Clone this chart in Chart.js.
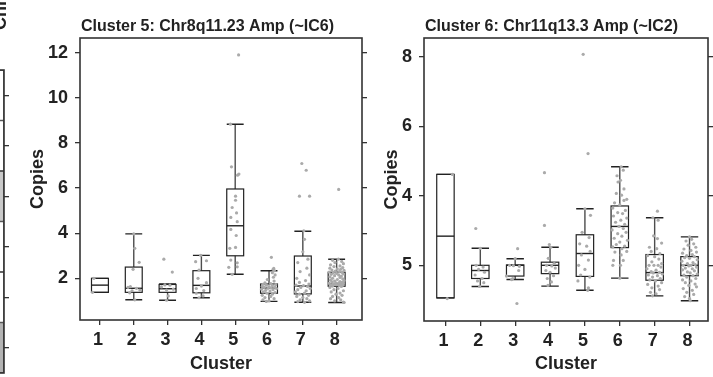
<!DOCTYPE html>
<html>
<head>
<meta charset="utf-8">
<script src="https://cdn.jsdelivr.net/npm/chart.js@4.4.1/dist/chart.umd.min.js"></script>
<style>
  html, body { margin: 0; padding: 0; background: #fff; overflow: hidden; }
  #wrap { position: relative; width: 713px; height: 377px; overflow: hidden; }
  canvas { position: absolute; top: 0; }
  #chr {
    position: absolute; left: -9px; top: 30px; white-space: nowrap;
    transform: rotate(-90deg); transform-origin: 0 0;
    font: bold 18px "Liberation Sans", Arial, sans-serif; line-height: 18px; color: #222;
  }
</style>
</head>
<body>
<div id="wrap">
  <canvas id="frag" width="160" height="377" style="left:-150px"></canvas>
  <canvas id="p1" width="372" height="377" style="left:0"></canvas>
  <canvas id="p2" width="348" height="377" style="left:365px"></canvas>
  <div id="chr">Chr</div>
</div>
<script>
// ---- data ----
const clusters = ['1', '2', '3', '4', '5', '6', '7', '8'];

// Panel 1: Chr8q11.23
const p1Title = 'Cluster 5: Chr8q11.23 Amp (~IC6)';
const p1YTicks = [2, 4, 6, 8, 10, 12];
const p1YLabels = ['2', '4', '6', '8', '10', '12'];
const p1Min = [1.38, 1.05, 1.03, 1.14, 2.18, 0.98, 0.94, 0.93];
const p1Q1  = [1.38, 1.38, 1.38, 1.36, 3.00, 1.34, 1.31, 1.65];
const p1Med = [1.70, 1.56, 1.54, 1.69, 4.33, 1.57, 1.66, 1.76];
const p1Q3  = [2.00, 2.50, 1.73, 2.34, 5.96, 1.75, 2.99, 2.27];
const p1Max = [2.00, 3.97, 1.75, 3.02, 8.83, 2.34, 4.09, 2.85];
// jittered samples: [offset from cluster, copies]
const p1Pts = [
  [[-0.18, 2.0], [-0.22, 1.38]],
  [[0.0, 3.97], [0.03, 3.33], [0.16, 2.71], [-0.02, 2.40], [-0.1, 1.63], [-0.17, 1.60], [0.08, 1.56],
   [0.18, 1.48], [-0.05, 1.45], [-0.12, 1.36], [0.03, 1.05]],
  [[-0.11, 2.85], [0.14, 2.28], [-0.08, 1.71], [0.07, 1.70], [-0.18, 1.62], [0.17, 1.52], [-0.03, 1.48],
   [0.02, 1.22], [-0.03, 1.03]],
  [[-0.02, 3.02], [0.15, 2.78], [-0.17, 2.74], [-0.07, 2.37], [-0.1, 2.0], [0.15, 1.81], [0.0, 1.66],
   [-0.15, 1.55], [0.07, 1.46], [-0.15, 1.34], [0.05, 1.22], [-0.07, 1.14]],
  [[0.1, 11.9], [-0.14, 8.83], [-0.11, 6.94], [0.07, 6.57], [0.11, 6.62], [0.01, 5.64], [0.01, 5.46],
   [-0.09, 5.14], [0.04, 4.90], [-0.13, 4.70], [0.06, 4.51], [-0.13, 4.17], [0.03, 3.90], [-0.16, 3.33],
   [0.01, 3.37], [-0.13, 2.81], [0.06, 2.69], [-0.19, 2.49], [0.06, 2.51], [-0.09, 2.18]],
  [[0.07, 2.93], [0.14, 2.44], [0.12, 2.40], [0.16, 2.34], [0.1, 2.25], [0.18, 2.15], [0.13, 2.05],
   [-0.05, 1.95], [0.15, 1.88], [-0.12, 1.80], [0.05, 1.77], [-0.18, 1.74], [0.2, 1.72], [-0.08, 1.70],
   [0.1, 1.68], [-0.2, 1.65], [0.0, 1.63], [0.17, 1.61], [-0.14, 1.60], [0.06, 1.58], [-0.03, 1.56],
   [0.22, 1.55], [-0.22, 1.52], [0.12, 1.50], [-0.1, 1.47], [0.03, 1.44], [-0.17, 1.40], [0.18, 1.37],
   [-0.06, 1.34], [0.1, 1.30], [-0.2, 1.25], [0.05, 1.20], [-0.12, 1.15], [0.15, 1.10], [-0.18, 1.05],
   [0.0, 1.0], [-0.08, 0.98]],
  [[-0.03, 7.09], [0.1, 6.79], [-0.1, 5.64], [0.2, 5.64], [0.03, 4.11], [0.05, 3.73], [0.0, 3.18],
   [0.15, 2.85], [-0.15, 2.7], [0.12, 2.45], [-0.08, 2.3], [0.2, 2.15], [-0.18, 2.0], [0.08, 1.9],
   [-0.1, 1.82], [0.18, 1.75], [-0.2, 1.7], [0.02, 1.68], [0.14, 1.64], [-0.06, 1.6], [0.22, 1.55],
   [-0.15, 1.5], [0.1, 1.45], [-0.22, 1.4], [0.05, 1.35], [-0.1, 1.3], [0.17, 1.25], [-0.18, 1.2],
   [0.0, 1.15], [0.12, 1.1], [-0.08, 1.05], [0.2, 1.0], [-0.15, 0.97], [0.05, 0.94]],
  [[0.06, 5.94], [0.05, 2.85], [-0.12, 2.8], [0.15, 2.75], [-0.05, 2.7], [0.2, 2.65], [-0.18, 2.6],
   [0.1, 2.55], [-0.08, 2.52], [0.18, 2.48], [-0.2, 2.45], [0.02, 2.42], [0.12, 2.4], [-0.14, 2.37],
   [0.22, 2.35], [-0.04, 2.32], [0.08, 2.3], [-0.22, 2.28], [0.16, 2.26], [-0.1, 2.24], [0.0, 2.22],
   [0.2, 2.2], [-0.16, 2.18], [0.06, 2.15], [-0.06, 2.12], [0.14, 2.1], [-0.2, 2.07], [0.1, 2.04],
   [-0.12, 2.0], [0.18, 1.98], [0.02, 1.95], [-0.18, 1.92], [0.22, 1.9], [-0.06, 1.88], [0.1, 1.86],
   [-0.14, 1.84], [0.16, 1.82], [-0.02, 1.8], [0.06, 1.79], [-0.22, 1.78], [0.2, 1.77], [-0.1, 1.76],
   [0.12, 1.75], [-0.04, 1.74], [0.0, 1.72], [-0.16, 1.71], [0.18, 1.7], [0.08, 1.68], [-0.12, 1.66],
   [0.14, 1.64], [-0.2, 1.6], [0.04, 1.55], [-0.08, 1.5], [0.2, 1.45], [-0.16, 1.4], [0.1, 1.35],
   [-0.02, 1.3], [0.16, 1.25], [-0.12, 1.2], [0.06, 1.15], [-0.18, 1.1], [0.12, 1.05], [-0.06, 1.0],
   [0.2, 0.95], [0.22, 0.93]]
];

// Panel 2: Chr11q13.3 (tick labels as printed)
const p2Title = 'Cluster 6: Chr11q13.3 Amp (~IC2)';
const p2YTicks = [2, 4, 6, 8];
const p2YLabels = ['5', '4', '6', '8'];
const p2Min = [1.06, 1.39, 1.59, 1.40, 1.28, 1.63, 1.12, 0.98];
const p2Q1  = [1.06, 1.62, 1.69, 1.76, 1.68, 2.51, 1.57, 1.70];
const p2Med = [2.84, 1.85, 2.00, 2.00, 2.34, 3.12, 1.79, 2.00];
const p2Q3  = [4.62, 2.00, 2.01, 2.09, 2.88, 3.71, 2.31, 2.25];
const p2Max = [4.62, 2.49, 2.19, 2.52, 3.63, 4.84, 3.37, 2.82];
const p2Pts = [
  [[0.2, 4.62], [0.05, 1.04]],
  [[-0.13, 3.06], [0.0, 2.49], [-0.12, 2.0], [0.08, 1.95], [-0.05, 1.88], [0.12, 1.8], [-0.15, 1.72],
   [0.05, 1.62], [-0.08, 1.55], [0.1, 1.5], [-0.02, 1.39]],
  [[0.07, 2.48], [0.0, 2.19], [-0.16, 2.0], [-0.05, 1.99], [0.12, 1.97], [0.1, 1.85], [-0.25, 1.69],
   [-0.07, 1.62], [-0.1, 1.59], [0.05, 0.90]],
  [[-0.16, 4.67], [-0.16, 3.15], [-0.02, 2.6], [0.02, 2.52], [-0.05, 2.2], [0.12, 2.05], [-0.1, 2.0],
   [0.05, 1.98], [0.15, 1.92], [-0.12, 1.85], [0.0, 1.8], [0.1, 1.7], [-0.08, 1.62], [0.04, 1.52],
   [-0.06, 1.42]],
  [[-0.05, 8.08], [0.09, 5.22], [0.16, 3.44], [0.0, 3.63], [-0.08, 2.95], [0.12, 2.8], [-0.15, 2.62],
   [0.05, 2.55], [0.15, 2.4], [-0.1, 2.3], [0.1, 2.15], [-0.18, 2.0], [0.0, 1.88], [-0.12, 1.72],
   [0.14, 1.66], [-0.2, 1.55], [0.1, 1.35], [0.08, 1.28]],
  [[0.04, 4.84], [0.1, 4.74], [-0.08, 4.58], [0.02, 4.45], [-0.05, 4.40], [0.12, 4.20], [-0.1, 4.07],
   [0.05, 4.02], [0.2, 3.90], [0.12, 3.87], [-0.15, 3.80], [0.0, 3.74], [-0.2, 3.65], [0.16, 3.58],
   [-0.06, 3.52], [0.08, 3.49], [-0.18, 3.42], [0.2, 3.36], [0.03, 3.30], [-0.12, 3.24], [0.14, 3.18],
   [-0.02, 3.12], [0.1, 3.06], [-0.22, 3.02], [0.18, 2.95], [-0.06, 2.91], [0.06, 2.84], [-0.16, 2.78],
   [0.22, 2.72], [0.0, 2.67], [-0.1, 2.60], [0.14, 2.55], [-0.2, 2.53], [0.06, 2.48], [0.2, 2.40],
   [-0.14, 2.38], [0.04, 2.30], [-0.18, 2.14], [0.1, 2.14], [-0.2, 2.0], [0.02, 2.0], [0.0, 1.63]],
  [[0.08, 3.56], [-0.05, 3.37], [0.1, 3.30], [-0.03, 2.85], [0.08, 2.77], [0.2, 2.64], [-0.15, 2.52],
   [0.06, 2.48], [-0.1, 2.40], [0.15, 2.34], [-0.2, 2.28], [0.0, 2.25], [0.12, 2.18], [-0.08, 2.10],
   [0.2, 2.05], [-0.16, 2.00], [-0.02, 2.00], [0.1, 2.00], [0.18, 1.95], [-0.22, 1.90], [0.04, 1.86],
   [-0.1, 1.82], [0.14, 1.80], [-0.04, 1.78], [0.22, 1.75], [-0.18, 1.72], [0.08, 1.70], [-0.06, 1.66],
   [0.16, 1.62], [-0.14, 1.58], [0.02, 1.55], [0.2, 1.50], [-0.2, 1.45], [0.1, 1.40], [-0.08, 1.35],
   [0.14, 1.30], [-0.12, 1.22], [0.04, 1.18], [-0.06, 1.12]],
  [[0.0, 2.82], [0.06, 2.75], [-0.1, 2.70], [0.12, 2.62], [-0.04, 2.58], [0.18, 2.52], [-0.16, 2.47],
   [0.04, 2.43], [0.2, 2.38], [-0.2, 2.35], [0.08, 2.31], [-0.08, 2.28], [0.14, 2.25], [-0.14, 2.22],
   [0.0, 2.20], [0.22, 2.16], [-0.22, 2.12], [0.1, 2.08], [-0.06, 2.05], [0.16, 2.02], [-0.18, 2.00],
   [0.04, 2.00], [-0.02, 1.98], [0.2, 1.95], [-0.12, 1.92], [0.08, 1.90], [-0.2, 1.87], [0.14, 1.84],
   [-0.06, 1.81], [0.02, 1.78], [0.22, 1.75], [-0.16, 1.72], [0.1, 1.70], [-0.08, 1.66], [0.18, 1.62],
   [-0.2, 1.58], [0.04, 1.55], [-0.12, 1.50], [0.16, 1.46], [-0.02, 1.42], [0.2, 1.38], [-0.18, 1.33],
   [0.08, 1.28], [-0.08, 1.22], [0.12, 1.16], [-0.14, 1.10], [0.0, 1.04], [0.02, 0.98]]
];

// cropped neighbour panel on the left edge
const fragRows = ['r1', 'r2', 'r3', 'r4', 'r5', 'r6'];
const fragValues = [1, 1, 1, 1, 1, 1];
const fragFill = ['#ffffff', '#ffffff', '#c9c9c9', '#ffffff', '#ffffff', '#b3b3b3'];

// ---- look ----
const FONT = '"Liberation Sans", Arial, Helvetica, sans-serif';
const INK = '#222';
const BOX_HALF = 0.25;

// boxes, whiskers, frame and panel title, placed with the chart's own scales
const boxPlugin = {
  id: 'boxes',
  beforeDatasetsDraw(chart, args, opts) {
    const { ctx, scales: { x, y } } = chart;
    const s = opts.stats;
    if (!s) return;
    const py = v => y.getPixelForValue(v);
    ctx.save();
    for (let i = 0; i < s.med.length; i++) {
      const xc = x.getPixelForValue(i + 1);
      const xl = x.getPixelForValue(i + 1 - BOX_HALF);
      const xr = x.getPixelForValue(i + 1 + BOX_HALF);
      // whiskers
      ctx.strokeStyle = '#4d4d4d';
      ctx.lineWidth = 1.4;
      ctx.beginPath();
      ctx.moveTo(xc, py(s.q3[i])); ctx.lineTo(xc, py(s.max[i]));
      ctx.moveTo(xc, py(s.q1[i])); ctx.lineTo(xc, py(s.min[i]));
      ctx.stroke();
      // caps
      ctx.strokeStyle = INK;
      ctx.beginPath();
      ctx.moveTo(xl, py(s.max[i])); ctx.lineTo(xr, py(s.max[i]));
      ctx.moveTo(xl, py(s.min[i])); ctx.lineTo(xr, py(s.min[i]));
      ctx.stroke();
      // box
      ctx.lineWidth = 1.2;
      ctx.strokeRect(xl, py(s.q3[i]), xr - xl, py(s.q1[i]) - py(s.q3[i]));
      // median
      ctx.lineWidth = 1.4;
      ctx.beginPath();
      ctx.moveTo(xl, py(s.med[i])); ctx.lineTo(xr, py(s.med[i]));
      ctx.stroke();
    }
    ctx.restore();
  },
  afterDraw(chart, args, opts) {
    const { ctx, chartArea: a } = chart;
    ctx.save();
    ctx.strokeStyle = '#333';
    ctx.lineWidth = 1.6;
    ctx.strokeRect(a.left, a.top, a.right - a.left, a.bottom - a.top);
    if (opts.title) {
      ctx.fillStyle = INK;
      ctx.font = 'bold 16px ' + FONT;
      ctx.textAlign = 'left';
      ctx.textBaseline = 'alphabetic';
      ctx.fillText(opts.title, a.left + 1, 31);
    }
    ctx.restore();
  }
};

function tickList(values) {
  return scale => { scale.ticks = values.map(v => ({ value: v })); };
}

function makePanel(id, cfg) {
  const points = cfg.pts.flatMap((list, i) => list.map(([dx, v]) => ({ x: i + 1 + dx, y: v })));
  const clusterTicks = clusters.map((c, i) => i + 1);
  return new Chart(document.getElementById(id), {
    type: 'scatter',
    data: {
      datasets: [{
        data: points,
        pointRadius: 1.6,
        pointBackgroundColor: '#aaaaaa',
        pointBorderWidth: 0
      }]
    },
    options: {
      responsive: false,
      animation: false,
      layout: { padding: { top: 38, left: 0, right: 0, bottom: 0 } },
      plugins: {
        legend: { display: false },
        tooltip: { enabled: false },
        boxes: { stats: cfg.stats, title: cfg.title }
      },
      scales: {
        x: {
          type: 'linear',
          min: cfg.xMin, max: cfg.xMax,
          afterBuildTicks: tickList(clusterTicks),
          afterFit: s => { s.height = cfg.bottomH; },
          ticks: {
            autoSkip: false, maxRotation: 0, padding: 4, labelOffset: -2,
            color: INK, font: { family: FONT, size: 18, weight: 'bold' },
            callback: v => clusters[v - 1]
          },
          grid: { drawOnChartArea: false, drawTicks: true, tickLength: 5, color: '#333', lineWidth: 1.3 },
          border: { display: false },
          title: {
            display: true, text: 'Cluster', color: INK,
            font: { family: FONT, size: 18, weight: 'bold' },
            padding: { top: 0, bottom: 2 }
          }
        },
        y: {
          type: 'linear', position: 'left',
          min: cfg.yMin, max: cfg.yMax,
          afterBuildTicks: tickList(cfg.yTicks),
          afterFit: s => { s.width = cfg.leftW; },
          ticks: {
            padding: 7, color: INK, font: { family: FONT, size: 18, weight: 'bold' },
            callback: v => cfg.yLabels[cfg.yTicks.indexOf(v)]
          },
          grid: { drawOnChartArea: false, drawTicks: true, tickLength: 5, color: '#333', lineWidth: 1.3 },
          border: { display: false },
          title: {
            display: true, text: 'Copies', color: INK,
            font: { family: FONT, size: 18, weight: 'bold' },
            padding: { top: cfg.titlePad, bottom: 0 }
          }
        },
        y2: {
          type: 'linear', position: 'right',
          min: cfg.yMin, max: cfg.yMax,
          afterBuildTicks: tickList(cfg.yTicks),
          afterFit: s => { s.width = cfg.rightW; },
          ticks: { display: false },
          grid: { drawOnChartArea: false, drawTicks: true, tickLength: 5, color: '#333', lineWidth: 1.3 },
          border: { display: false }
        }
      }
    },
    plugins: [boxPlugin]
  });
}

makePanel('p1', {
  title: p1Title, pts: p1Pts,
  stats: { min: p1Min, q1: p1Q1, med: p1Med, q3: p1Q3, max: p1Max },
  yTicks: p1YTicks, yLabels: p1YLabels,
  xMin: 0.41, xMax: 8.75, yMin: 0.155, yMax: 12.65,
  leftW: 80, rightW: 10, bottomH: 57, titlePad: 27.5
});

makePanel('p2', {
  title: p2Title, pts: p2Pts,
  stats: { min: p2Min, q1: p2Q1, med: p2Med, q3: p2Q3, max: p2Max },
  yTicks: p2YTicks, yLabels: p2YLabels,
  xMin: 0.385, xMax: 8.53, yMin: 0.395, yMax: 8.55,
  leftW: 59, rightW: 5, bottomH: 56, titlePad: 16
});

// left-edge fragment of the neighbouring figure panel
new Chart(document.getElementById('frag'), {
  type: 'bar',
  data: {
    labels: fragRows,
    datasets: [{
      data: fragValues,
      backgroundColor: fragFill,
      borderColor: '#333',
      borderWidth: 1,
      borderSkipped: false,
      barPercentage: 1,
      categoryPercentage: 1
    }]
  },
  options: {
    indexAxis: 'y',
    responsive: false,
    animation: false,
    layout: { padding: { top: 70, bottom: 4, left: 0, right: 0 } },
    plugins: { legend: { display: false }, tooltip: { enabled: false }, boxes: { title: '' } },
    scales: {
      x: { display: false, min: 0, max: 1 },
      y: {
        position: 'right',
        afterFit: s => { s.width = 6; },
        ticks: { display: false },
        grid: { offset: false, drawOnChartArea: false, drawTicks: true, tickLength: 5, color: '#333', lineWidth: 1.3 },
        border: { display: false }
      }
    }
  },
  plugins: [boxPlugin]
});
</script>
</body>
</html>
